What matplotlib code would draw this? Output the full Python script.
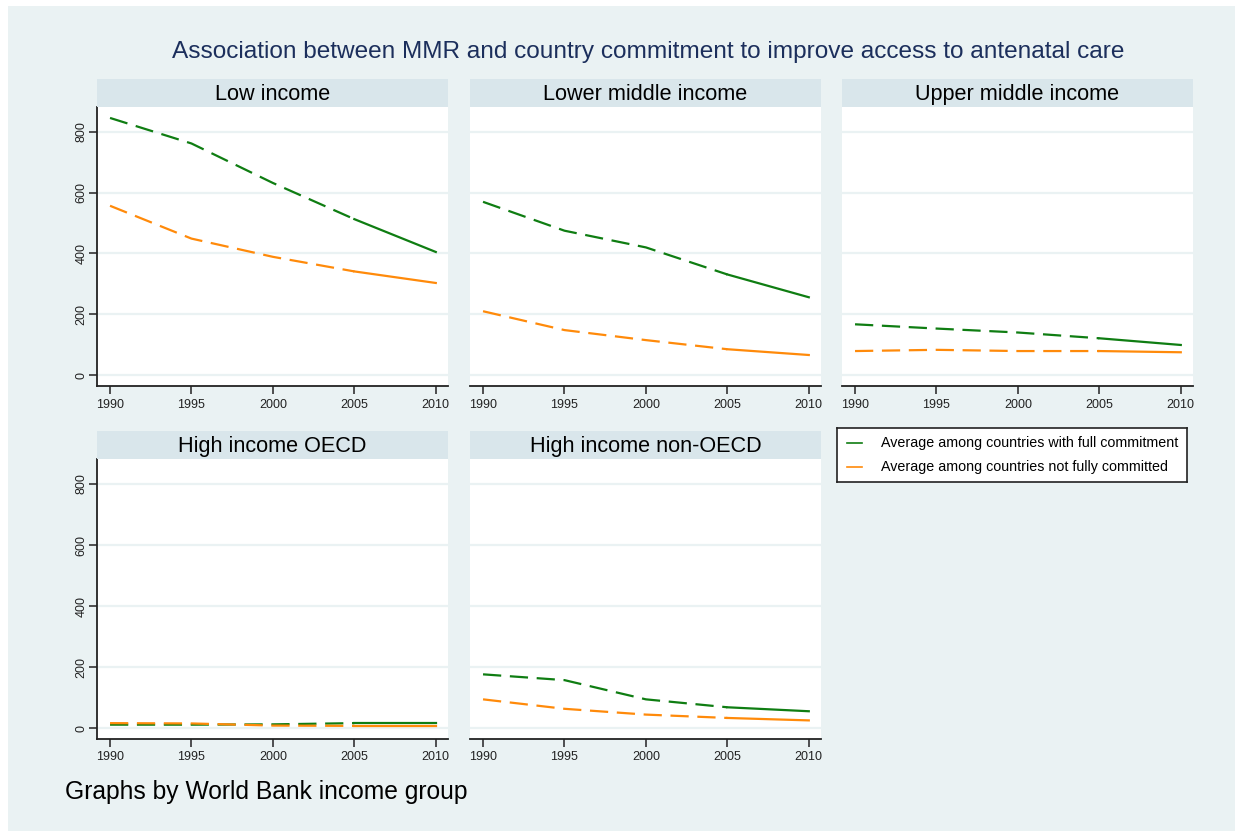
import matplotlib
matplotlib.use("Agg")
import matplotlib.pyplot as plt
from matplotlib.patches import Rectangle
from matplotlib.lines import Line2D

plt.rcParams['font.family'] = ['Liberation Sans', 'DejaVu Sans']

# Maternal mortality ratio by World Bank income group
years = [1990, 1995, 2000, 2005, 2010]
groups = ["Low income", "Lower middle income", "Upper middle income",
          "High income OECD", "High income non-OECD"]

full_low = [846, 762, 632, 513, 405]
notfull_low = [557, 449, 389, 341, 303]
full_lmi = [570, 475, 420, 331, 256]
notfull_lmi = [210, 148, 115, 85, 66]
full_umi = [167, 153, 140, 121, 99]
notfull_umi = [79, 83, 79, 79, 75]
full_oecd = [11, 11, 12, 16, 16]
notfull_oecd = [16, 15, 8, 7, 7]
full_nonoecd = [176, 157, 94, 68, 55]
notfull_nonoecd = [94, 63, 44, 33, 25]

full_series = [full_low, full_lmi, full_umi, full_oecd, full_nonoecd]
notfull_series = [notfull_low, notfull_lmi, notfull_umi, notfull_oecd, notfull_nonoecd]

yticks = [0, 200, 400, 600, 800]
legend_labels = ["Average among countries with full commitment",
                 "Average among countries not fully committed"]
title = "Association between MMR and country commitment to improve access to antenatal care"
note = "Graphs by World Bank income group"

GREEN = "#0f7d12"
ORANGE = "#ff8a0a"
BG = "#eaf2f3"
STRIP = "#d9e6eb"
NAVY = "#1c2f5c"

W, H = 1235, 831
fig = plt.figure(figsize=(W / 100, H / 100), dpi=100)
fig.patch.set_facecolor("white")
fig.add_artist(Rectangle((8 / W, 0), 1 - 8 / W, 1 - 6 / H, transform=fig.transFigure,
                         facecolor=BG, edgecolor="none", zorder=0))

col_left = [97, 470, 842]
col_w = 351
row_top = [107, 459]      # top of plot region (px from top)
row_bot = [386, 739]      # bottom of plot region
strip_h = 28

dash = (0, (8.2, 3.9))

for i, name in enumerate(groups):
    r, c = divmod(i, 3)
    left = col_left[c] / W
    bottom = 1 - row_bot[r] / H
    height = (row_bot[r] - row_top[r]) / H
    ax = fig.add_axes([left, bottom, col_w / W, height])
    ax.set_facecolor("white")
    ax.set_xlim(1989.2, 2010.75)
    ax.set_ylim(-36, 882)
    for yv in yticks:
        ax.axhline(yv, color=BG, lw=1.6, zorder=1)

    # dashed through 2005, solid afterwards
    k = years.index(2005)
    for series, col in ((full_series[i], GREEN), (notfull_series[i], ORANGE)):
        ax.plot(years[:k + 1], series[:k + 1], color=col, lw=1.6, ls=dash, zorder=3,
                solid_capstyle="butt", dash_capstyle="butt")
        ax.plot(years[k:], series[k:], color=col, lw=1.6, ls="-", zorder=3)

    ax.set_xticks(years)
    ax.set_xticklabels([str(y) for y in years])
    ax.tick_params(axis="x", length=6, width=1.2, color="#333333", labelsize=9,
                   pad=3, labelcolor="#222222")
    for s in ("top", "right"):
        ax.spines[s].set_visible(False)
    ax.spines["bottom"].set_color("#222222")
    ax.spines["bottom"].set_linewidth(1.3)
    if c == 0:
        ax.set_yticks(yticks)
        ax.set_yticklabels([str(v) for v in yticks], rotation=90, va="center")
        ax.tick_params(axis="y", length=6, width=1.2, color="#333333", labelsize=9,
                       pad=0.8, labelcolor="#222222")
        ax.spines["left"].set_color("#222222")
        ax.spines["left"].set_linewidth(1.3)
    else:
        ax.set_yticks([])
        ax.spines["left"].set_visible(False)

    sax = fig.add_axes([left, 1 - (row_top[r]) / H, col_w / W, strip_h / H])
    sax.set_facecolor(STRIP)
    sax.set_xticks([])
    sax.set_yticks([])
    for s in sax.spines.values():
        s.set_visible(False)
    sax.text(0.5, 0.45, name, ha="center", va="center", fontsize=15.6, color="black",
             transform=sax.transAxes)

# legend box in the empty sixth cell
lx0, ly0, lx1, ly1 = 837, 428, 1187, 482
lax = fig.add_axes([lx0 / W, 1 - ly1 / H, (lx1 - lx0) / W, (ly1 - ly0) / H])
lax.set_xlim(lx0, lx1)
lax.set_ylim(ly1, ly0)
lax.set_facecolor("white")
lax.set_xticks([])
lax.set_yticks([])
for s in lax.spines.values():
    s.set_color("#222222")
    s.set_linewidth(1.2)
for yy, col, lab in ((443, GREEN, legend_labels[0]), (467, ORANGE, legend_labels[1])):
    lax.add_line(Line2D([847, 862], [yy, yy], color=col, lw=1.2))
    lax.text(881, yy, lab, ha="left", va="center", fontsize=10.3, color="black")

fig.text(648 / W, 1 - 52 / H, title, ha="center", va="center", fontsize=17.6, color=NAVY)
fig.text(65 / W, 1 - 792 / H, note, ha="left", va="center", fontsize=17.7, color="black")

fig.savefig("out.png", dpi=100, facecolor=fig.get_facecolor())
